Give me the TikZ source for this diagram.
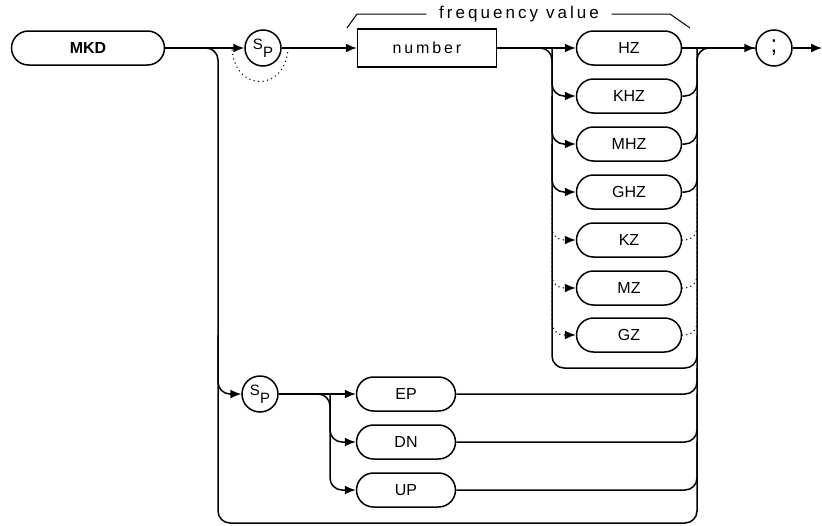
\documentclass[tikz,border=0pt]{standalone}
\usepackage{fontspec}
\setmainfont{Liberation Sans}
\newfontfamily\plotfont[LetterSpace=18]{Liberation Sans}
\usetikzlibrary{arrows.meta}

\begin{document}
\begin{tikzpicture}[x=1pt,y=-1pt,line width=1.5pt,
    seta/.style={-{Latex[length=11pt,width=9pt]}},
    pill/.style={draw, rounded corners=17pt, minimum height=34pt, inner sep=0pt,
        font=\fontsize{16}{16}\selectfont},
    caixa/.style={draw, minimum width=139pt, minimum height=38pt, inner sep=0pt,
        font=\plotfont\fontsize{16}{16}\selectfont},
    bola/.style={draw, circle, minimum size=36pt, inner sep=0pt,
        font=\fontsize{15}{15}\selectfont},
    pontilhado/.style={dash pattern=on 0pt off 4.5pt, line cap=round},
    curva/.style={rounded corners=12pt},
    fina/.style={line width=1pt}]

    \useasboundingbox (0,0) rectangle (822,525);

    % Comando
    \node[pill, minimum width=153pt, font=\bfseries\fontsize{16}{16}\selectfont] (mkd) at (88,48) {MKD};

    % Espaco opcional
    \node[bola] (sp1) at (263,48) {S\raisebox{-8pt}{P}};
    \coordinate (desvioA) at (232,50);
    \coordinate (desvioB) at (288,50);

    % Valor de frequencia
    \node[caixa] (num) at (427,48) {number};
    \node[font=\plotfont\fontsize{17}{17}\selectfont, inner xsep=12pt] (freq) at (519,14) {frequency value};

    % Unidades
    \node[pill, minimum width=105pt] (hz) at (629,48) {HZ};
    \node[pill, minimum width=105pt] (khz) at (629,96) {KHZ};
    \node[pill, minimum width=105pt] (mhz) at (629,144) {MHZ};
    \node[pill, minimum width=105pt] (ghz) at (629,192) {GHZ};
    \node[pill, minimum width=105pt] (kz) at (629,240) {KZ};
    \node[pill, minimum width=105pt] (mz) at (629,288) {MZ};
    \node[pill, minimum width=105pt] (gz) at (629,335) {GZ};

    % Ponto e virgula
    \node[bola, font=\fontsize{24}{24}\selectfont] (semi) at (774,48) {;};
    \coordinate (fim) at (822,48);

    % Segundo ramo
    \node[bola] (sp2) at (260,394) {S\raisebox{-8pt}{P}};
    \node[pill, minimum width=99pt] (ep) at (406,394) {EP};
    \node[pill, minimum width=99pt] (dn) at (406,442) {DN};
    \node[pill, minimum width=99pt] (up) at (406,490) {UP};

    % Barramentos
    \coordinate (busA) at (218,48);
    \coordinate (fundo) at (218,523);
    \coordinate (busB) at (552,48);
    \coordinate (grupo) at (552,368);
    \coordinate (busC) at (697,48);
    \coordinate (ramo) at (330,394);

    % Linha principal
    \draw[seta] (mkd) -- (sp1);
    \draw[seta] (sp1) -- (num);
    \draw[seta] (num) -- (hz);
    \draw[seta] (hz) -- (semi);
    \draw[seta] (semi) -- (fim);
    \draw[pontilhado] (desvioA) .. controls (236,92) and (284,92) .. (desvioB);

    % Chave do valor de frequencia
    \draw[fina] (347,28) -- (357,14) -- (freq.west);
    \draw[fina] (freq.east) -- (670,14) -- (690,28);

    % Laco externo
    \draw[curva] (mkd.east) -- (busA) -- (fundo) -- (busC |- fundo) -- (busC) -- (semi.west);

    % Grupo das unidades
    \draw[curva] (num.east) -- (busB) -- (grupo) -- (busC |- grupo) -- (busC |- gz);
    \draw[curva,seta] (busB |- hz) |- (khz.west);
    \draw[curva,seta] (busB |- khz) |- (mhz.west);
    \draw[curva,seta] (busB |- mhz) |- (ghz.west);
    \draw[curva,seta,pontilhado] (busB |- ghz) |- (kz.west);
    \draw[curva,seta,pontilhado] (busB |- kz) |- (mz.west);
    \draw[curva,seta,pontilhado] (busB |- mz) |- (gz.west);
    \draw[curva] (khz.east) -| (busC |- hz);
    \draw[curva] (mhz.east) -| (busC |- khz);
    \draw[curva] (ghz.east) -| (busC |- mhz);
    \draw[curva,pontilhado] (kz.east) -| (busC |- ghz);
    \draw[curva,pontilhado] (mz.east) -| (busC |- kz);
    \draw[curva,pontilhado] (gz.east) -| (busC |- mz);

    % EP / DN / UP
    \draw[curva,seta] (busA |- gz) |- (sp2.west);
    \draw[seta] (sp2) -- (ep);
    \draw[curva,seta] (sp2.east) -- (ramo) |- (up.west);
    \draw[curva,seta] (ramo) |- (dn.west);
    \draw[curva] (ep.east) -| (busC |- grupo);
    \draw[curva] (dn.east) -| (busC |- ep);
    \draw[curva] (up.east) -| (busC |- dn);

\end{tikzpicture}
\end{document}
